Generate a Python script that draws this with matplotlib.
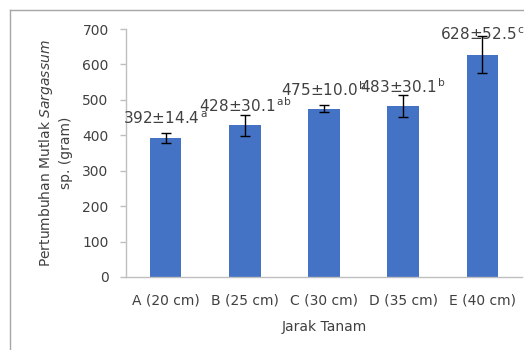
import matplotlib.pyplot as plt
from matplotlib.lines import Line2D
import numpy as np

categories = ["A (20 cm)", "B (25 cm)", "C (30 cm)", "D (35 cm)", "E (40 cm)"]
means = [392, 428, 475, 483, 628]
sds = [14.4, 30.1, 10.0, 30.1, 52.5]
letters = ["a", "ab", "b", "b", "c"]

BAR_COLOR = "#4472C4"
AXIS_GRAY = "#BFBFBF"
TEXT_COLOR = "#404040"

plt.rcParams.update({
    "font.family": "DejaVu Sans",
    "font.size": 10,
    "mathtext.fontset": "dejavusans",
})

W, H = 524, 350
fig = plt.figure(figsize=(W / 100, H / 100), dpi=100)
ax = fig.add_axes([126 / W, 1 - 277 / H, (522 - 126) / W, (277 - 29) / H])

x = np.arange(len(categories))
ax.bar(x, means, width=0.40, color=BAR_COLOR, zorder=2)
ax.errorbar(x, means, yerr=sds, fmt="none", ecolor="black", elinewidth=1,
            capsize=3.3, capthick=1, zorder=3)

# nilai rata-rata ± SD dengan huruf notasi di atas tiap batang
for xi, m, s, let in zip(x, means, sds, letters):
    ax.annotate(f"{m}±{s:.1f}" + r"$^{\,\mathregular{" + let + "}}$",
                (xi, m), xytext=(0, 14), textcoords="offset points",
                ha="center", va="center", fontsize=11, color=TEXT_COLOR,
                annotation_clip=False)

ax.set_xlim(-0.5, len(categories) - 0.5)
ax.set_ylim(0, 700)
ax.set_yticks(np.arange(0, 701, 100))
ax.set_xticks(x)
ax.set_xticklabels(categories)

for side in ("top", "right"):
    ax.spines[side].set_visible(False)
for side in ("left", "bottom"):
    ax.spines[side].set_color(AXIS_GRAY)
    ax.spines[side].set_linewidth(1)
ax.tick_params(axis="y", length=4.5, width=1, color=AXIS_GRAY, pad=8,
               labelcolor=TEXT_COLOR, labelsize=10)
ax.tick_params(axis="x", length=0, pad=12, labelcolor=TEXT_COLOR, labelsize=10)

ax.set_xlabel("Jarak Tanam", color=TEXT_COLOR, fontsize=10, labelpad=9)
fig.text(55 / W, 1 - 153 / H,
         "Pertumbuhan Mutlak $\\it{Sargassum}$\nsp. (gram)",
         rotation=90, ha="center", va="center", multialignment="center",
         color=TEXT_COLOR, fontsize=10, linespacing=1.45)

# bingkai area grafik
frame = dict(color="#A6A6A6", linewidth=1, transform=fig.transFigure)
fig.add_artist(Line2D([9.5 / W, 1.0], [1 - 10 / H] * 2, **frame))
fig.add_artist(Line2D([9.5 / W] * 2, [0.0, 1 - 10 / H], **frame))

fig.savefig("out.png", dpi=100, facecolor="white")
